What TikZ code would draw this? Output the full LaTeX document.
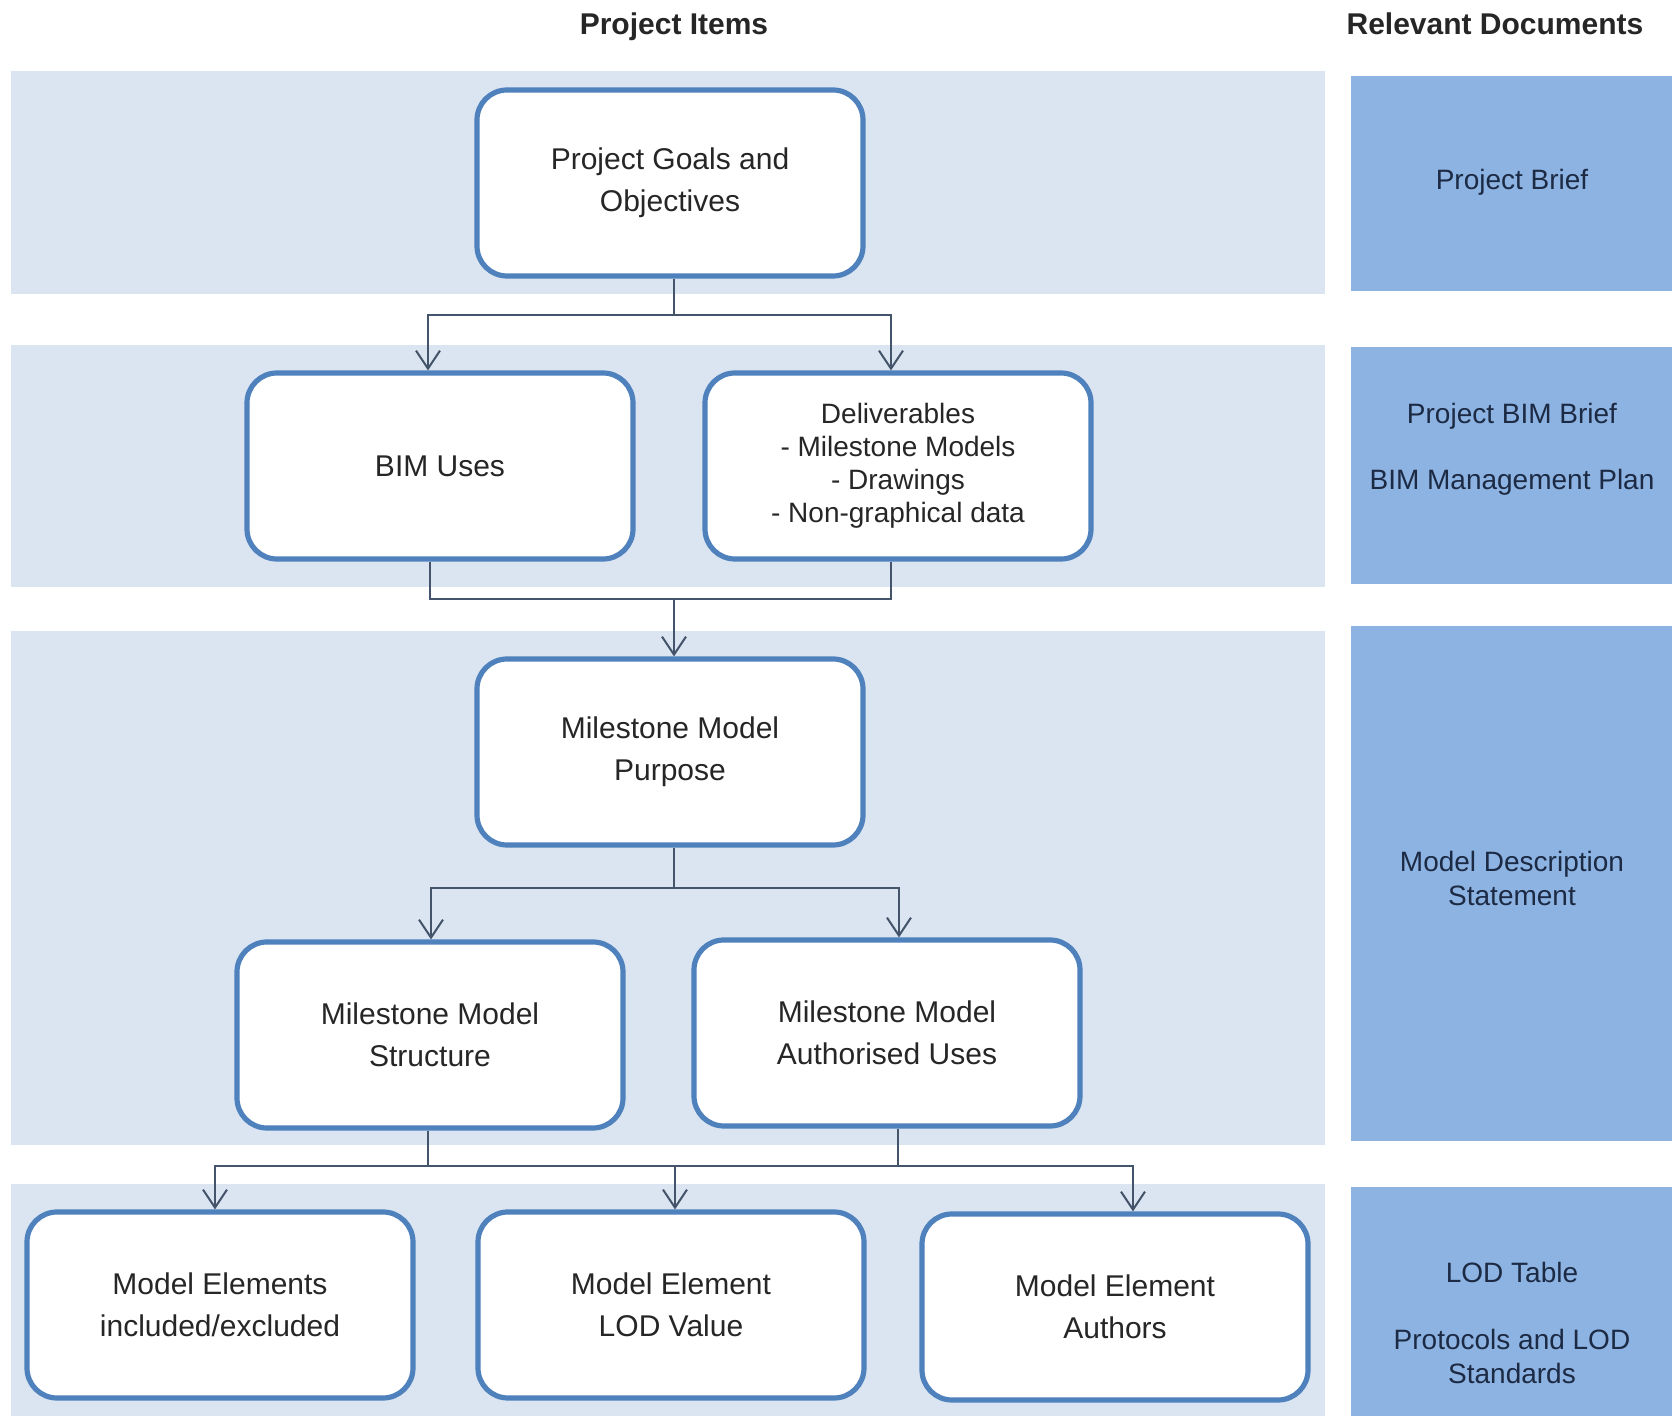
\documentclass[tikz,border=0pt]{standalone}
\usepackage{fontspec}
\setmainfont{Liberation Sans}
\usetikzlibrary{positioning}
\usetikzlibrary{arrows.meta}
\usetikzlibrary{calc}

\definecolor{bandblue}{HTML}{DBE5F1}
\definecolor{docblue}{HTML}{8DB3E2}
\definecolor{itemline}{HTML}{4F81BD}
\definecolor{linkgray}{HTML}{44546A}
\definecolor{docink}{HTML}{1C2A44}
\definecolor{itemink}{HTML}{262626}

\begin{document}
\begin{tikzpicture}[x=0.5pt, y=-0.5pt,
  item/.style={draw=itemline, line width=2.6pt, fill=white, rounded corners=15pt,
    minimum width=193pt, minimum height=93pt, align=center, text=itemink,
    font=\fontsize{15}{21}\selectfont},
  doctext/.style={align=center, text=docink, font=\fontsize{14}{17}\selectfont},
  heading/.style={anchor=base, font=\fontsize{15}{18}\selectfont\bfseries, text=black!85},
  link/.style={draw=linkgray, line width=1pt},
  flow/.style={link, -{Straight Barb[length=9pt, width=12pt]}}]

  \useasboundingbox (0,0) rectangle (1672,1416);

  % light bands behind the project items
  \foreach \ya/\yb in {71/294, 345/587, 631/1145, 1184/1416}
    \fill[bandblue] (11,\ya) rectangle (1325,\yb);
  % relevant documents column
  \foreach \ya/\yb in {76/291, 347/584, 626/1141, 1187/1416}
    \fill[docblue] (1351,\ya) rectangle (1672,\yb);

  % headings
  \node[heading] (items) at (674,35) {Project Items};
  \node[heading] (docs) at (1495,35) {Relevant Documents};

  % project items
  \node[item] (goals) at (670,183) {Project Goals and\\Objectives};
  \node[item] (bim) at (440,466) {BIM Uses};
  \node[item, font=\fontsize{14}{16.5}\selectfont] (deliv) at (898,466)
    {Deliverables\\- Milestone Models\\- Drawings\\- Non-graphical data};
  \node[item] (purpose) at (670,752) {Milestone Model\\Purpose};
  \node[item] (struct) at (430,1035) {Milestone Model\\Structure};
  \node[item] (auth) at (887,1033) {Milestone Model\\Authorised Uses};
  \node[item] (elems) at (220,1305) {Model Elements\\included/excluded};
  \node[item] (lodval) at (671,1305) {Model Element\\LOD Value};
  \node[item] (authors) at (1115,1307) {Model Element\\Authors};

  % documents
  \node[doctext] (brief) at (1512,182) {Project Brief};
  \node[doctext] (bimbrief) at (1512,416) {Project BIM Brief};
  \node[doctext] (bmp) at (1512,482) {BIM Management Plan};
  \node[doctext] (mds) at (1512,878) {Model Description\\Statement};
  \node[doctext] (lodtab) at (1512,1272) {LOD Table};
  \node[doctext] (protocols) at (1512,1356) {Protocols and LOD\\Standards};

  % goals -> uses and deliverables
  \draw[link] ($(goals.south)+(4,0)$) -- ++(0,36) coordinate (s1);
  \draw[flow] (s1) -| ($(bim.north)+(-12,0)$);
  \draw[flow] (s1) -| ($(deliv.north)+(-7,0)$);

  % uses and deliverables -> purpose
  \coordinate (s2) at ($(purpose.north)+(4,-57)$);
  \draw[link] ($(bim.south)+(-10,0)$) |- (s2) -| ($(deliv.south)+(-7,0)$);
  \draw[flow] (s2) -- (purpose.north -| s2);

  % purpose -> structure and authorised uses
  \draw[link] ($(purpose.south)+(4,0)$) -- ++(0,40) coordinate (s3);
  \draw[flow] (s3) -| ($(struct.north)+(1,0)$);
  \draw[flow] (s3) -| ($(auth.north)+(12,0)$);

  % structure and authorised uses -> model elements
  \draw[link] ($(struct.south)+(-2,0)$) -- ++(0,35) coordinate (s4);
  \draw[link] ($(auth.south)+(11,0)$) |- (s4);
  \draw[flow] (s4) -| ($(elems.north)+(-5,0)$);
  \draw[flow] (s4) -| ($(lodval.north)+(4,0)$);
  \draw[flow] (s4) -| ($(authors.north)+(18,0)$);
\end{tikzpicture}
\end{document}
